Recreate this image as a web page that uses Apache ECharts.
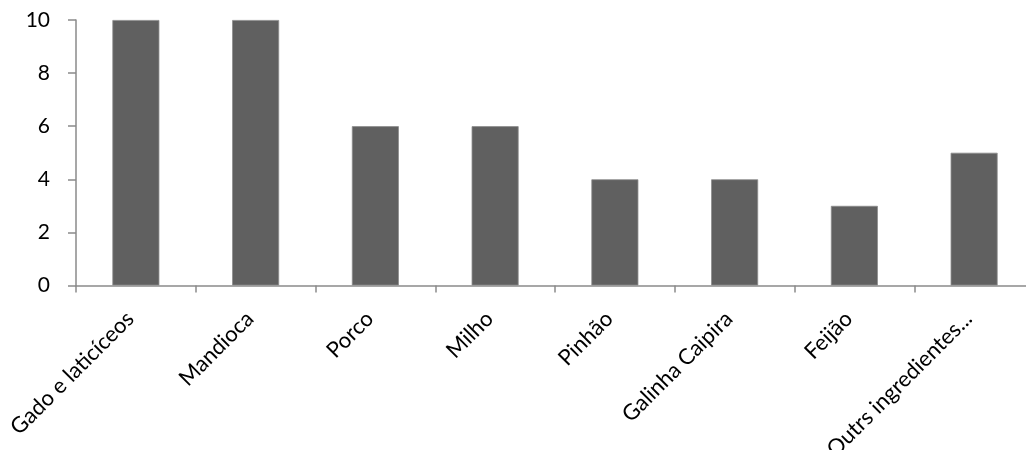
<!DOCTYPE html>
<html>
<head>
<meta charset="utf-8">
<script src="https://cdn.jsdelivr.net/npm/echarts@6/dist/echarts.min.js"></script>
<style>
  html, body { margin: 0; padding: 0; background: #ffffff; }
  #chart { width: 1026px; height: 450px; }
</style>
</head>
<body>
<div id="chart"></div>
<script>
// Ingredient categories and their counts
const categories = ['Gado e laticíceos', 'Mandioca', 'Porco', 'Milho', 'Pinhão', 'Galinha Caipira', 'Feijão', 'Outrs ingredientes...'];
const counts = [10, 10, 6, 6, 4, 4, 3, 5];
const yTicks = { min: 0, max: 10, interval: 2 };

const axisGray = '#8a8a8a';
const labelFont = 'Lato, "Open Sans", sans-serif';

const chart = echarts.init(document.getElementById('chart'), null, { renderer: 'canvas' });
chart.setOption({
  animation: false,
  backgroundColor: '#ffffff',
  grid: { left: 76, top: 20, right: -8, bottom: 164.5, containLabel: false, outerBoundsMode: 'none' },
  xAxis: {
    type: 'category',
    data: categories,
    boundaryGap: true,
    axisLine: { show: true, lineStyle: { color: axisGray, width: 1.5 } },
    axisTick: { show: true, alignWithLabel: false, inside: false, length: 7, lineStyle: { color: axisGray, width: 1.5 } },
    axisLabel: {
      interval: 0,
      rotate: 45,
      margin: 24,
      padding: [0, 8, 0, 0],
      color: '#000000',
      fontSize: 22,
      fontFamily: labelFont
    },
    splitLine: { show: false }
  },
  yAxis: {
    type: 'value',
    min: yTicks.min,
    max: yTicks.max,
    interval: yTicks.interval,
    axisLine: { show: true, lineStyle: { color: axisGray, width: 1.5 } },
    axisTick: { show: true, inside: false, length: 8, lineStyle: { color: axisGray, width: 1.5 } },
    axisLabel: {
      margin: 26,
      color: '#000000',
      fontSize: 21,
      fontFamily: labelFont
    },
    splitLine: { show: false }
  },
  series: [{
    type: 'bar',
    data: counts,
    barWidth: 47,
    itemStyle: { color: '#606060', borderColor: '#8c8c8c', borderWidth: 0.8 }
  }]
});
</script>
</body>
</html>
